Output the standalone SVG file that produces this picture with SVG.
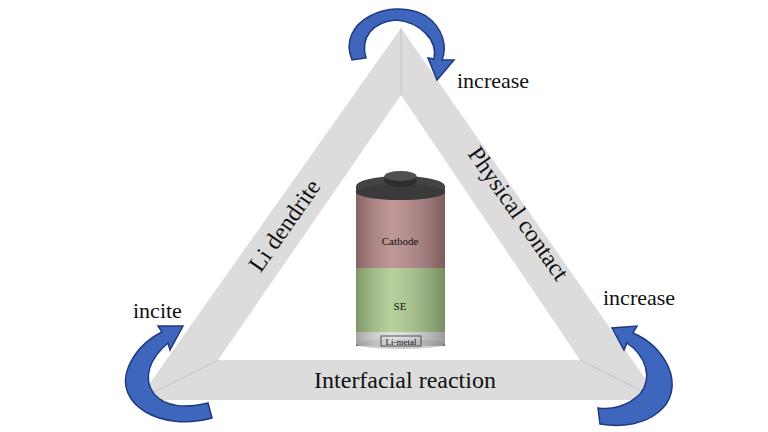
<svg xmlns="http://www.w3.org/2000/svg" width="768" height="432" viewBox="0 0 768 432">
<defs>
<linearGradient id="cy" x1="0" x2="1"><stop offset="0" stop-color="#000" stop-opacity="0.25"/><stop offset="0.4" stop-color="#fff" stop-opacity="0.15"/><stop offset="1" stop-color="#000" stop-opacity="0.3"/></linearGradient>
<style>
.t{font-family:"Liberation Serif",serif;fill:#111}
.arr{fill:#3f66bd;stroke:#1f3a80;stroke-width:1.5}
</style>
</defs>
<rect width="768" height="432" fill="#fff"/>
<g id="triangle">
<path d="M401,28 L660,400 L138,400 Z M401,95 L218,360 L580,360 Z" fill="#dcdcdc" fill-rule="evenodd"/>
<path d="M401,28 L401,95 M138,400 L218,360 M660,400 L580,360" stroke="#c4c4c4" stroke-width="1"/>
</g>
<g id="labels">
<text class="t" x="0" y="0" font-size="24" transform="translate(291,230) rotate(-55)" text-anchor="middle">Li dendrite</text>
<text class="t" x="0" y="0" font-size="24" transform="translate(512,218) rotate(55)" text-anchor="middle">Physical contact</text>
<text class="t" x="405" y="388" font-size="24" text-anchor="middle">Interfacial reaction</text>
<text class="t" x="457" y="88" font-size="22">increase</text>
<text class="t" x="603" y="305" font-size="22">increase</text>
<text class="t" x="133" y="318" font-size="22">incite</text>
</g>
<g id="battery">
<rect x="356" y="186" width="89" height="160" fill="#888"/>
<rect x="356" y="190" width="89" height="78" fill="#b48484"/>
<rect x="356" y="268" width="89" height="64" fill="#a9c98a"/>
<rect x="356" y="332" width="89" height="12" fill="#ddd"/>
<ellipse cx="400.5" cy="344" rx="44.5" ry="5" fill="#ccc"/>
<rect x="356" y="186" width="89" height="160" fill="url(#cy)"/>
<ellipse cx="400.5" cy="186" rx="44.5" ry="10" fill="#444"/>
<rect x="356" y="186" width="89" height="8" fill="#444"/>
<ellipse cx="400.5" cy="192" rx="44.5" ry="8" fill="#3a3a3a"/>
<ellipse cx="400.5" cy="181" rx="16" ry="6" fill="#2e2e2e"/>
<rect x="384.5" y="176" width="32" height="6" fill="#2e2e2e"/>
<ellipse cx="400.5" cy="176" rx="16" ry="5" fill="#505050"/>
<text class="t" x="400" y="245" font-size="11" text-anchor="middle" fill="#333">Cathode</text>
<text class="t" x="400" y="310" font-size="11" text-anchor="middle" fill="#333">SE</text>
<rect x="381" y="336" width="40" height="10" fill="none" stroke="#333" stroke-width="0.8"/>
<text class="t" x="401" y="344.5" font-size="9" text-anchor="middle">Li-metal</text>
</g>
<g id="connectors">
<path class="arr" d="M352,60 C336,22 390,-4 426,16 C444,28 447,48 442,60 L454,60 L437,80 L428,58 L434,59 C438,40 420,22 396,20 C372,22 360,38 366,58 Z"/>
<path class="arr" d="M208,403 L212,418 C160,432 114,404 128,368 C136,348 150,338 162,332 L158,326 L183,326 L170,350 L168,343 C150,358 142,378 154,394 C166,408 188,408 208,403 Z"/>
<path class="arr" d="M598,408 L600,424 C648,432 685,404 668,366 C658,346 645,338 633,333 L637,326 L612,328 L624,350 L627,343 C646,356 653,378 640,394 C628,406 612,410 598,408 Z"/>
</g>
</svg>
